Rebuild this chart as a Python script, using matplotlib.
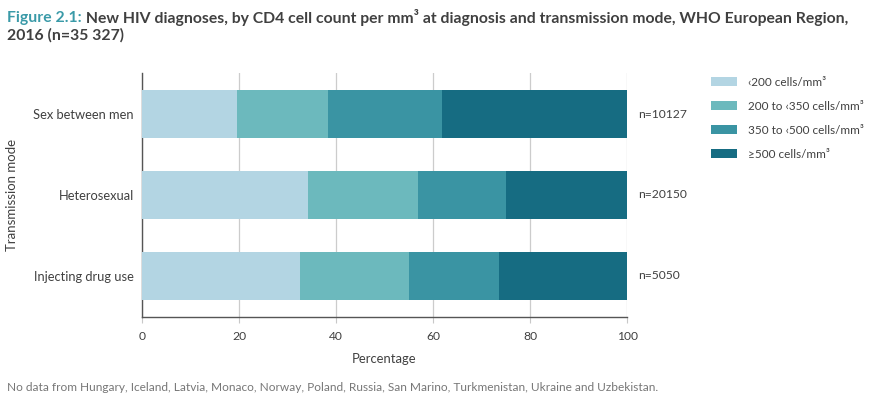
import matplotlib.pyplot as plt
from matplotlib.patches import Patch

plt.rcParams['font.family'] = ['Lato', 'DejaVu Sans']

modes = ['Injecting drug use', 'Heterosexual', 'Sex between men']
counts = ['n=5050', 'n=20150', 'n=10127']
categories = ['‹200 cells/mm³', '200 to ‹350 cells/mm³',
              '350 to ‹500 cells/mm³', '≥500 cells/mm³']
values = [
    [32.6, 34.2, 19.6],
    [22.5, 22.7, 18.8],
    [18.5, 18.2, 23.5],
    [26.4, 24.9, 38.1],
]
colors = ['#b3d5e3', '#6cb9bd', '#3a94a3', '#166c82']
text_col = '#404040'

fig = plt.figure(figsize=(8.75, 4), dpi=100)
ax = fig.add_axes([0.1623, 0.2075, 0.5543, 0.61])

left = [0, 0, 0]
for vals, col, lab in zip(values, colors, categories):
    ax.barh(range(len(modes)), vals, left=left, height=0.6, color=col,
            label=lab, zorder=3)
    left = [a + b for a, b in zip(left, vals)]

for i, n in enumerate(counts):
    ax.text(102.2, i, n, va='center', ha='left', fontsize=8.7, color=text_col)

ax.set_xlim(0, 100)
ax.set_ylim(-0.51, 2.51)
ax.set_xticks([0, 20, 40, 60, 80, 100])
ax.set_yticks(range(len(modes)))
ax.set_yticklabels(modes)
ax.tick_params(axis='y', length=0, pad=6, labelsize=9.3, labelcolor=text_col)
ax.tick_params(axis='x', length=4, color='#c8c8c8', labelsize=8.7,
               labelcolor=text_col, pad=6)
ax.grid(axis='x', color='#cccccc', linewidth=0.9, zorder=0)
for s in ['top', 'right']:
    ax.spines[s].set_visible(False)
for s in ['left', 'bottom']:
    ax.spines[s].set_color('#555555')
    ax.spines[s].set_linewidth(1.0)
ax.set_xlabel('Percentage', fontsize=9.4, color=text_col, labelpad=8)
fig.text(0.014, 0.5125, 'Transmission mode', rotation=90, va='center',
         ha='center', fontsize=9.5, color=text_col)

handles = [Patch(facecolor=c, edgecolor='none') for c in colors]
fig.legend(handles, categories, loc='upper left',
           bbox_to_anchor=(0.8, 0.835), frameon=False, fontsize=8.5,
           labelcolor=text_col, handlelength=2.2, handleheight=0.7,
           labelspacing=1.1, handletextpad=1.0)

t1 = fig.text(0.008, 0.955, 'Figure 2.1:', fontsize=11.3, color='#3a9aa8',
              va='center', ha='left', fontweight='bold')
fig.text(0.008, 0.912, '2016 (n=35 327)', fontsize=11.3, color=text_col,
         va='center', ha='left', fontweight='bold')
ax.annotate(' New HIV diagnoses, by CD4 cell count per mm³ at diagnosis and '
            'transmission mode, WHO European Region,',
            xy=(1, 0.5), xycoords=t1, va='center', ha='left',
            fontsize=11.3, color=text_col, fontweight='bold',
            annotation_clip=False)
fig.text(0.008, 0.032,
         'No data from Hungary, Iceland, Latvia, Monaco, Norway, Poland, Russia, '
         'San Marino, Turkmenistan, Ukraine and Uzbekistan.',
         fontsize=8.6, color='#777777', va='center', ha='left')

fig.savefig('out.png', dpi=100)
